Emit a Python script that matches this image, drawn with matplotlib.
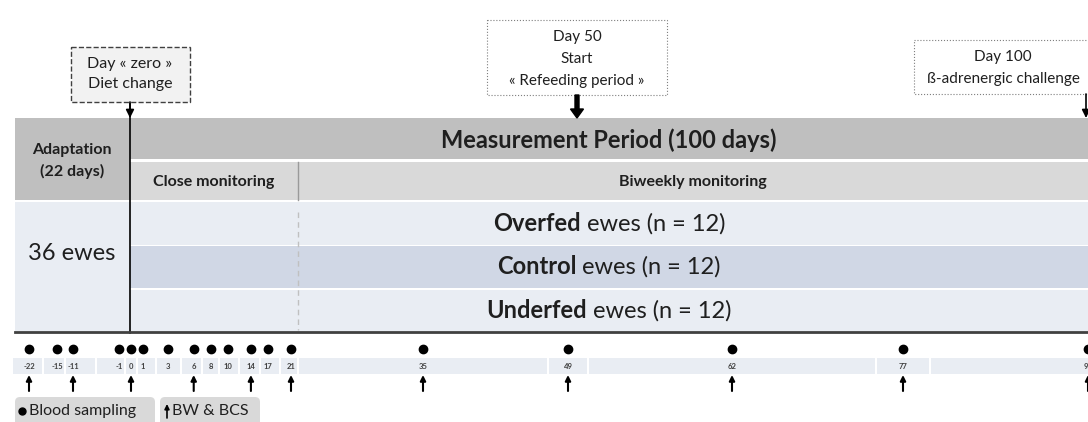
import numpy as np
import matplotlib
matplotlib.use('Agg')
import matplotlib.pyplot as plt
from matplotlib.patches import Rectangle, FancyBboxPatch

plt.rcParams['font.family'] = ['Lato', 'DejaVu Sans']

# dias del calendario de muestreo
dias = [-22, -15, -11, -1, 0, 1, 3, 6, 8, 10, 14, 17, 21, 35, 49, 62, 77, 98]
dias_sangre = [-22, -15, -11, -1, 0, 1, 3, 6, 8, 10, 14, 17, 21, 35, 49, 62, 77, 98]
dias_pesaje = [-22, -11, 0, 6, 14, 21, 35, 49, 62, 77, 98]

# grupos de ovejas
grupos = ['Overfed', 'Control', 'Underfed']
n_grupo = [12, 12, 12]
total_ovejas = 36

# escala (no lineal) dia -> pixel, como en el esquema original
escala_dias = [-22, -11, -1, 1, 3, 10, 21, 35, 49, 62, 77, 98]
escala_px = [29, 73, 119, 143, 168, 228, 291, 423, 568, 732, 903, 1088]


def x_dia(d):
    return float(np.interp(d, escala_dias, escala_px))


fig = plt.figure(figsize=(10.88, 4.22), dpi=100)
ax = fig.add_axes([0, 0, 1, 1])
ax.set_xlim(0, 1088)
ax.set_ylim(422, 0)
ax.axis('off')
renderer = fig.canvas.get_renderer()

X0, XD, XB, X1 = 15, 130, 298, 1092
OSCURO, CLARO = '#bfbfbf', '#d9d9d9'
FILA1, FILA2 = '#e9edf3', '#d0d7e5'
TEXTO = '#1f1f1f'

# cabecera
ax.add_patch(Rectangle((X0, 118), XD - X0, 82, color=OSCURO, lw=0))
ax.add_patch(Rectangle((XD, 118), X1 - XD, 41, color=OSCURO, lw=0))
ax.add_patch(Rectangle((XD, 162), X1 - XD, 38, color=CLARO, lw=0))
ax.plot([XB, XB], [162, 200], color='#9a9a9a', lw=1)
ax.text(72, 161, 'Adaptation\n(22 days)', ha='center', va='center', fontsize=11.5,
        fontweight='bold', color=TEXTO, linespacing=1.55)
ax.text((XD + 1088) / 2, 140, 'Measurement Period (100 days)', ha='center', va='center',
        fontsize=17, fontweight='bold', color=TEXTO)
ax.text((XD + XB) / 2, 182, 'Close monitoring', ha='center', va='center', fontsize=11.5,
        fontweight='bold', color=TEXTO)
ax.text((XB + 1088) / 2, 182, 'Biweekly monitoring', ha='center', va='center', fontsize=11.5,
        fontweight='bold', color=TEXTO)

# filas de grupos
ax.add_patch(Rectangle((X0, 202), XD - X0, 129, color=FILA1, lw=0))
ax.text(72, 253, f'{total_ovejas} ewes', ha='center', va='center', fontsize=17, color=TEXTO)
filas_y = [(202, 43), (246, 42), (290, 41)]
centro = (XD + 1088) / 2
for i, (g, n) in enumerate(zip(grupos, n_grupo)):
    y, h = filas_y[i]
    color = FILA2 if i == 1 else FILA1
    ax.add_patch(Rectangle((XD, y), X1 - XD, h, color=color, lw=0))
    t1 = ax.text(0, y + h / 2, g, ha='left', va='center', fontsize=17,
                 fontweight='bold', color=TEXTO)
    t2 = ax.text(0, y + h / 2, f' ewes (n = {n})', ha='left', va='center', fontsize=17,
                 color=TEXTO)
    w1 = t1.get_window_extent(renderer).width
    w2 = t2.get_window_extent(renderer).width
    izq = centro - (w1 + w2) / 2
    t1.set_x(izq)
    t2.set_x(izq + w1)

ax.plot([XB, XB], [212, 330], color='#c0c0c0', lw=1, ls=(0, (4, 3)))
ax.plot([XD, XD], [104, 333], color='black', lw=1.2)
ax.plot([X0, 1088], [332, 332], color='#404040', lw=2)

# tira de dias
xs = [x_dia(d) for d in dias]
n_cerca = sum(1 for d in dias if d <= 21)
derecha = 0
for i, x in enumerate(xs):
    if i < n_cerca:
        izq = 13 if i == 0 else (xs[i - 1] + x) / 2 + 1
        der = XB - 1 if i == n_cerca - 1 else (x + xs[i + 1]) / 2 - 1
    else:
        izq = derecha + 2
        der = 2 * x - izq
    derecha = der
    ax.add_patch(Rectangle((izq, 358), der - izq, 16, color=FILA1, lw=0))
    ax.text(x, 366.5, str(dias[i]), ha='center', va='center', fontsize=5.5,
            fontweight='bold', color='#404040')

ax.plot([x_dia(d) for d in dias_sangre], [349] * len(dias_sangre), 'o', color='black',
        markersize=6)
for d in dias_pesaje:
    ax.annotate('', xy=(x_dia(d), 375), xytext=(x_dia(d), 391),
                arrowprops=dict(arrowstyle='-|>', color='black', lw=1.5,
                                mutation_scale=8, shrinkA=0, shrinkB=0))

# cuadros de eventos
ax.add_patch(Rectangle((71, 47), 119, 55, fc='#f2f2f2', ec='#404040', lw=1, ls='--'))
ax.text(130, 74, 'Day « zero »\nDiet change', ha='center', va='center', fontsize=11.5,
        color=TEXTO, linespacing=1.5)
ax.annotate('', xy=(XD, 118), xytext=(XD, 102),
            arrowprops=dict(arrowstyle='-|>', color='black', lw=1.2, mutation_scale=12,
                            shrinkA=0, shrinkB=0))

ax.add_patch(Rectangle((487, 20), 180, 75, fc='white', ec='#7f7f7f', lw=0.8, ls=':'))
ax.text(577, 59, 'Day 50\nStart\n« Refeeding period »', ha='center', va='center',
        fontsize=11, color=TEXTO, linespacing=1.75)
ax.arrow(577, 95, 0, 23, width=4, head_width=13, head_length=9,
         length_includes_head=True, color='black')

ax.add_patch(Rectangle((914, 40), 180, 54, fc='white', ec='#7f7f7f', lw=0.8, ls=':'))
ax.text(1003, 68, 'Day 100\nß-adrenergic challenge', ha='center', va='center',
        fontsize=11, color=TEXTO, linespacing=1.65)
ax.annotate('', xy=(1086, 118), xytext=(1086, 94),
            arrowprops=dict(arrowstyle='-|>', color='black', lw=1.2, mutation_scale=12,
                            shrinkA=0, shrinkB=0))

# leyenda
ax.add_patch(FancyBboxPatch((15, 397), 140, 35, boxstyle='round,pad=0,rounding_size=5',
                            fc=CLARO, ec='none'))
ax.add_patch(FancyBboxPatch((160, 397), 100, 35, boxstyle='round,pad=0,rounding_size=5',
                            fc=CLARO, ec='none'))
ax.plot([22], [411], 'o', color='black', markersize=5)
ax.text(29, 411, 'Blood sampling', ha='left', va='center', fontsize=11.5, color=TEXTO)
ax.annotate('', xy=(167, 404), xytext=(167, 418),
            arrowprops=dict(arrowstyle='-|>', color='black', lw=1.2, mutation_scale=7,
                            shrinkA=0, shrinkB=0))
ax.text(172, 411, 'BW & BCS', ha='left', va='center', fontsize=11.5, color=TEXTO)

fig.savefig('out.png', dpi=100)
